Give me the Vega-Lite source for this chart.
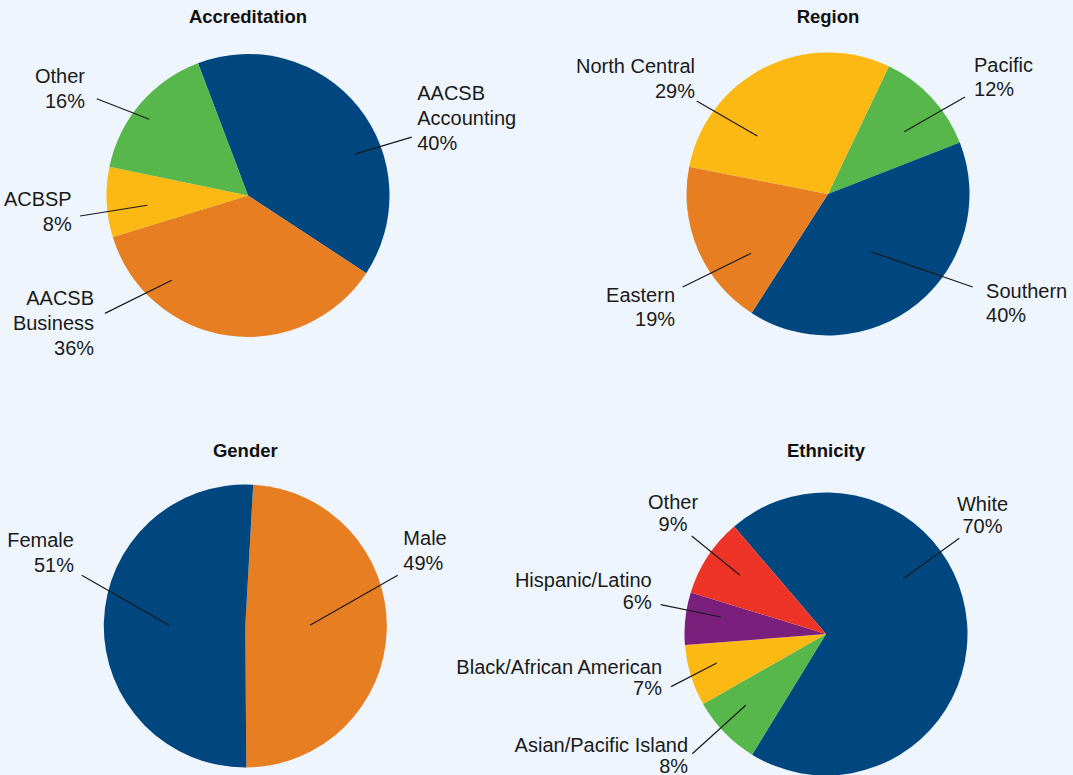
{
  "$schema": "https://vega.github.io/schema/vega-lite/v6.json",
  "background": "#EEF5FC",
  "padding": {"left": 0, "top": 7, "right": 12, "bottom": 0},
  "columns": 2,
  "bounds": "flush",
  "align": "each",
  "spacing": {"column": 104, "row": 125.3},
  "resolve": {"scale": {"theta": "independent", "color": "independent", "x": "independent", "y": "independent"}},
  "config": {
    "view": {"stroke": null},
    "title": {"font": "Liberation Sans", "fontSize": 18.5, "fontWeight": "bold", "color": "#111111", "offset": 15, "anchor": "middle", "frame": "group"},
    "text": {"font": "Liberation Sans", "fontSize": 20, "color": "#1A1A1A", "baseline": "alphabetic", "lineBreak": "\n"},
    "rule": {"color": "#1A1A1A", "strokeWidth": 1.2}
  },
  "concat": [
    {
      "width": 496, "height": 309,
      "title": {"text": "Accreditation"},
      "data": {"values": [
        {"idx": 1, "category": "AACSB Accounting", "value": 40, "label": "AACSB\nAccounting\n40%", "tx": 1.196, "ty": 0.673, "ax": 1.157, "ay": 0.413, "bx": 0.749, "by": 0.291},
        {"idx": 2, "category": "AACSB Business", "value": 36, "label": "AACSB\nBusiness\n36%", "tx": -1.088, "ty": -0.776, "ax": -1.011, "ay": -0.833, "bx": -0.539, "by": -0.599},
        {"idx": 3, "category": "ACBSP", "value": 8, "label": "ACBSP\n8%", "tx": -1.246, "ty": -0.074, "ax": -1.187, "ay": -0.145, "bx": -0.712, "by": -0.069},
        {"idx": 4, "category": "Other", "value": 16, "label": "Other\n16%", "tx": -1.152, "ty": 0.793, "ax": -1.069, "ay": 0.684, "bx": -0.698, "by": 0.539}
      ]},
      "layer": [
        {"mark": {"type": "arc", "outerRadius": 141.5},
         "encoding": {
           "theta": {"field": "value", "type": "quantitative", "stack": true, "scale": {"range": [-0.36128, 5.92190]}},
           "color": {"field": "category", "type": "nominal", "legend": null,
             "scale": {"domain": ["AACSB Accounting", "AACSB Business", "ACBSP", "Other"], "range": ["#00467F", "#E77E22", "#FDB913", "#57B74B"]}},
           "order": {"field": "idx", "type": "quantitative"}}},
        {"mark": {"type": "rule"},
         "encoding": {
           "x": {"field": "ax", "type": "quantitative", "axis": null, "scale": {"domain": [-1.7527, 1.7527], "nice": false, "zero": false}},
           "y": {"field": "ay", "type": "quantitative", "axis": null, "scale": {"domain": [-1.0919, 1.0919], "nice": false, "zero": false}},
           "x2": {"field": "bx"}, "y2": {"field": "by"}}},
        {"mark": {"type": "text", "lineHeight": 25, "align": {"expr": "datum.tx < 0 ? 'right' : 'left'"}},
         "encoding": {
           "x": {"field": "tx", "type": "quantitative"},
           "y": {"field": "ty", "type": "quantitative"},
           "text": {"field": "label", "type": "nominal"}}}
      ]
    },
    {
      "width": 456, "height": 306,
      "title": {"text": "Region"},
      "data": {"values": [
        {"idx": 1, "category": "Pacific", "value": 12, "label": "Pacific\n12%", "tx": 1.032, "ty": 0.864, "ax": 0.968, "ay": 0.686, "bx": 0.539, "by": 0.440},
        {"idx": 2, "category": "Southern", "value": 40, "label": "Southern\n40%", "tx": 1.117, "ty": -0.733, "ax": 1.023, "ay": -0.657, "bx": 0.302, "by": -0.408},
        {"idx": 3, "category": "Eastern", "value": 19, "label": "Eastern\n19%", "tx": -1.081, "ty": -0.763, "ax": -1.027, "ay": -0.657, "bx": -0.544, "by": -0.419},
        {"idx": 4, "category": "North Central", "value": 29, "label": "North Central\n29%", "tx": -0.940, "ty": 0.853, "ax": -0.928, "ay": 0.657, "bx": -0.500, "by": 0.410}
      ]},
      "layer": [
        {"mark": {"type": "arc", "outerRadius": 141.5},
         "encoding": {
           "theta": {"field": "value", "type": "quantitative", "stack": true, "scale": {"range": [0.44506, 6.72825]}},
           "color": {"field": "category", "type": "nominal", "legend": null,
             "scale": {"domain": ["Pacific", "Southern", "Eastern", "North Central"], "range": ["#57B74B", "#00467F", "#E77E22", "#FDB913"]}},
           "order": {"field": "idx", "type": "quantitative"}}},
        {"mark": {"type": "rule"},
         "encoding": {
           "x": {"field": "ax", "type": "quantitative", "axis": null, "scale": {"domain": [-1.6113, 1.6113], "nice": false, "zero": false}},
           "y": {"field": "ay", "type": "quantitative", "axis": null, "scale": {"domain": [-1.0813, 1.0813], "nice": false, "zero": false}},
           "x2": {"field": "bx"}, "y2": {"field": "by"}}},
        {"mark": {"type": "text", "lineHeight": 24.5, "align": {"expr": "datum.tx < 0 ? 'right' : 'left'"}},
         "encoding": {
           "x": {"field": "tx", "type": "quantitative"},
           "y": {"field": "ty", "type": "quantitative"},
           "text": {"field": "label", "type": "nominal"}}}
      ]
    },
    {
      "width": 490.6, "height": 301.4,
      "title": {"text": "Gender"},
      "data": {"values": [
        {"idx": 1, "category": "Male", "value": 49, "label": "Male\n49%", "tx": 1.117, "ty": 0.570, "ax": 1.077, "ay": 0.358, "bx": 0.457, "by": 0.005},
        {"idx": 2, "category": "Female", "value": 51, "label": "Female\n51%", "tx": -1.211, "ty": 0.558, "ax": -1.156, "ay": 0.358, "bx": -0.539, "by": 0.005}
      ]},
      "layer": [
        {"mark": {"type": "arc", "outerRadius": 141.5},
         "encoding": {
           "theta": {"field": "value", "type": "quantitative", "stack": true, "scale": {"range": [0.05585, 6.33904]}},
           "color": {"field": "category", "type": "nominal", "legend": null,
             "scale": {"domain": ["Male", "Female"], "range": ["#E77E22", "#00467F"]}},
           "order": {"field": "idx", "type": "quantitative"}}},
        {"mark": {"type": "rule"},
         "encoding": {
           "x": {"field": "ax", "type": "quantitative", "axis": null, "scale": {"domain": [-1.7336, 1.7336], "nice": false, "zero": false}},
           "y": {"field": "ay", "type": "quantitative", "axis": null, "scale": {"domain": [-1.065, 1.065], "nice": false, "zero": false}},
           "x2": {"field": "bx"}, "y2": {"field": "by"}}},
        {"mark": {"type": "text", "lineHeight": 24.7, "align": {"expr": "datum.tx < 0 ? 'right' : 'left'"}},
         "encoding": {
           "x": {"field": "tx", "type": "quantitative"},
           "y": {"field": "ty", "type": "quantitative"},
           "text": {"field": "label", "type": "nominal"}}}
      ]
    },
    {
      "width": 452, "height": 317.4,
      "title": {"text": "Ethnicity"},
      "data": {"values": [
        {"idx": 1, "category": "White", "value": 70, "label": "White\n70%", "tx": 1.106, "ty": 0.869, "ax": 0.942, "ay": 0.676, "bx": 0.546, "by": 0.391},
        {"idx": 2, "category": "Asian/Pacific Island", "value": 8, "label": "Asian/Pacific Island\n8%", "tx": -0.975, "ty": -0.832, "ax": -0.945, "ay": -0.846, "bx": -0.567, "by": -0.504},
        {"idx": 3, "category": "Black/African American", "value": 7, "label": "Black/African American\n7%", "tx": -1.159, "ty": -0.281, "ax": -1.095, "ay": -0.372, "bx": -0.772, "by": -0.205},
        {"idx": 4, "category": "Hispanic/Latino", "value": 6, "label": "Hispanic/Latino\n6%", "tx": -1.232, "ty": 0.332, "ax": -1.168, "ay": 0.207, "bx": -0.744, "by": 0.120},
        {"idx": 5, "category": "Other", "value": 9, "label": "Other\n9%", "tx": -1.081, "ty": 0.881, "ax": -0.949, "ay": 0.693, "bx": -0.608, "by": 0.415}
      ]},
      "layer": [
        {"mark": {"type": "arc", "outerRadius": 141.5},
         "encoding": {
           "theta": {"field": "value", "type": "quantitative", "stack": true, "scale": {"range": [-0.70686, 5.57633]}},
           "color": {"field": "category", "type": "nominal", "legend": null,
             "scale": {"domain": ["White", "Asian/Pacific Island", "Black/African American", "Hispanic/Latino", "Other"], "range": ["#00467F", "#57B74B", "#FDB913", "#7A1F7B", "#EE3426"]}},
           "order": {"field": "idx", "type": "quantitative"}}},
        {"mark": {"type": "rule"},
         "encoding": {
           "x": {"field": "ax", "type": "quantitative", "axis": null, "scale": {"domain": [-1.5972, 1.5972], "nice": false, "zero": false}},
           "y": {"field": "ay", "type": "quantitative", "axis": null, "scale": {"domain": [-1.1216, 1.1216], "nice": false, "zero": false}},
           "x2": {"field": "bx"}, "y2": {"field": "by"}}},
        {"mark": {"type": "text", "lineHeight": 21.7, "align": {"expr": "datum.ty > 0.5 ? 'center' : 'right'"}},
         "encoding": {
           "x": {"field": "tx", "type": "quantitative"},
           "y": {"field": "ty", "type": "quantitative"},
           "text": {"field": "label", "type": "nominal"}}}
      ]
    }
  ]
}
